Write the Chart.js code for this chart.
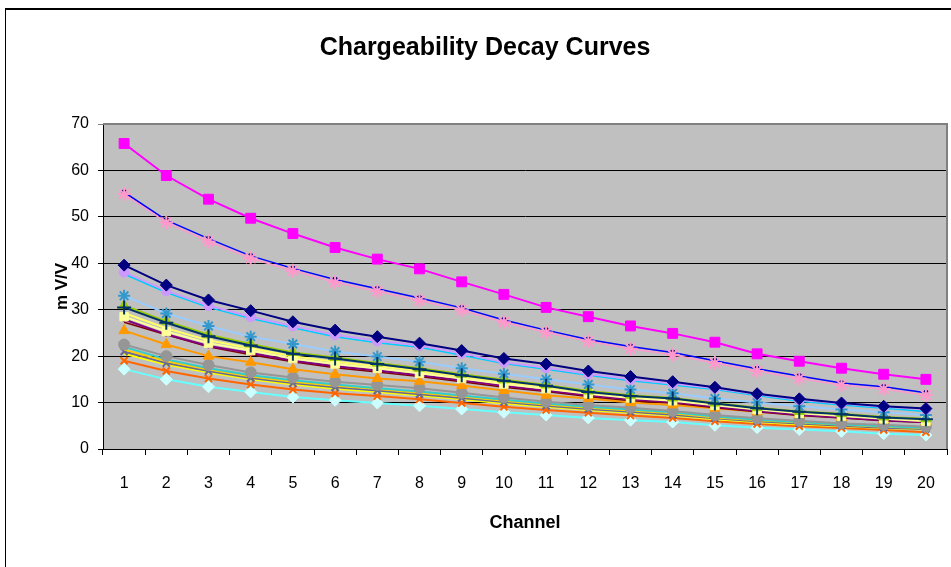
<!DOCTYPE html>
<html>
<head>
<meta charset="utf-8">
<script src="https://cdn.jsdelivr.net/npm/chart.js@4/dist/chart.umd.min.js"></script>
<style>
    html, body { margin: 0; padding: 0; background: #fff; overflow: hidden; }
    #wrap { position: relative; width: 951px; height: 567px; overflow: hidden; }
    #frame { position: absolute; left: 5px; top: 8px; width: 1000px; height: 700px;
             border-left: 1px solid #000; border-top: 2px solid #000; }
    #decay_chart { position: absolute; left: 0; top: 0; }
</style>
</head>
<body>
<div id="wrap">
    <div id="frame"></div>
    <canvas id="decay_chart" width="970" height="567"></canvas>
</div>
<script>
/**
 * chargeability values (mV/V) per channel, one array per curve
 */
let channels = ['1', '2', '3', '4', '5', '6', '7', '8', '9', '10', '11', '12', '13', '14', '15', '16', '17', '18', '19', '20'];
let magentaSquare = [65.8, 58.9, 53.8, 49.7, 46.4, 43.4, 40.9, 38.8, 36.0, 33.3, 30.5, 28.5, 26.5, 24.9, 23.0, 20.5, 18.9, 17.4, 16.1, 15.0];
let blueDot = [55.3, 49.3, 45.3, 41.6, 38.9, 36.5, 34.5, 32.5, 30.4, 27.8, 25.6, 23.6, 22.1, 20.8, 19.0, 17.3, 15.7, 14.2, 13.4, 12.1];
let pinkStar = [54.9, 48.8, 44.7, 41.1, 38.4, 35.9, 34.0, 32.0, 29.9, 27.3, 25.1, 23.2, 21.6, 20.3, 18.5, 16.8, 15.2, 13.8, 12.9, 11.6];
let navyDiamond = [39.6, 35.3, 32.1, 29.8, 27.4, 25.6, 24.2, 22.8, 21.2, 19.5, 18.3, 16.8, 15.6, 14.5, 13.3, 11.9, 10.8, 9.9, 9.2, 8.7];
let lilacCircle = [38.1, 34.1, 30.9, 28.5, 26.5, 24.6, 23.3, 22.3, 20.6, 18.7, 17.5, 16.2, 15.0, 14.1, 13.1, 11.8, 10.6, 9.8, 9.1, 8.6];
let skyLine = [37.7, 33.7, 30.5, 28.1, 26.1, 24.2, 22.9, 21.9, 20.2, 18.4, 17.2, 15.9, 14.7, 13.8, 12.8, 11.5, 10.3, 9.5, 8.8, 8.1];
let paleBlueStar = [33.0, 29.2, 26.5, 24.2, 22.6, 21.0, 19.9, 18.8, 17.4, 16.2, 15.0, 13.9, 12.8, 12.0, 10.9, 10.0, 9.2, 8.5, 7.9, 7.3];
let limeTriangle = [30.9, 27.5, 24.6, 22.6, 20.8, 19.7, 18.5, 17.4, 16.1, 14.9, 13.8, 12.5, 11.6, 11.0, 9.9, 8.9, 8.1, 7.6, 6.9, 6.5];
let tealPlus = [30.5, 27.2, 24.3, 22.3, 20.5, 19.5, 18.3, 17.2, 15.9, 14.7, 13.6, 12.3, 11.4, 10.9, 9.8, 8.8, 8.0, 7.5, 6.8, 6.4];
let yellowLine = [29.3, 26.0, 23.4, 21.7, 20.0, 18.8, 17.8, 16.8, 15.6, 14.4, 13.4, 12.3, 11.3, 10.7, 9.7, 8.8, 7.9, 7.3, 6.7, 6.2];
let creamSquare = [28.5, 25.3, 22.8, 21.2, 19.5, 18.3, 17.4, 16.3, 15.2, 14.0, 13.0, 11.9, 11.0, 10.4, 9.4, 8.5, 7.7, 7.1, 6.5, 6.0];
let purpleDot = [27.9, 24.7, 22.2, 20.7, 19.0, 17.8, 16.9, 15.9, 14.8, 13.6, 12.6, 11.6, 10.7, 10.1, 9.1, 8.2, 7.4, 6.8, 6.2, 5.8];
let maroonLine = [27.3, 24.6, 22.0, 20.3, 18.8, 17.5, 16.6, 15.6, 14.5, 13.3, 12.4, 11.3, 10.4, 9.9, 8.9, 8.0, 7.2, 6.7, 6.1, 5.7];
let orangeTriangle = [25.5, 22.5, 20.0, 18.7, 17.2, 16.1, 15.2, 14.6, 13.7, 12.6, 11.6, 10.9, 10.0, 9.5, 8.8, 8.0, 7.4, 6.8, 6.3, 5.8];
let grayCircle = [22.5, 20.0, 18.1, 16.5, 15.4, 14.5, 13.8, 13.1, 12.1, 11.1, 10.2, 9.5, 8.9, 8.2, 7.3, 6.6, 6.1, 5.5, 5.2, 4.8];
let aquaLine = [22.0, 19.3, 17.4, 15.9, 14.8, 13.9, 13.1, 12.4, 11.5, 10.6, 9.8, 9.1, 8.5, 7.9, 7.0, 6.3, 5.8, 5.3, 4.9, 4.6];
let goldLine = [21.4, 18.9, 17.1, 15.6, 14.5, 13.6, 12.9, 12.1, 11.3, 10.4, 9.6, 8.9, 8.3, 7.7, 6.8, 6.2, 5.7, 5.2, 4.8, 4.5];
let slateCross = [21.0, 18.5, 16.8, 15.3, 14.2, 13.3, 12.6, 11.8, 11.0, 10.1, 9.3, 8.6, 8.0, 7.4, 6.6, 6.0, 5.5, 5.0, 4.6, 4.3];
let brightYellow = [20.5, 18.2, 16.5, 15.0, 13.9, 13.0, 12.3, 11.5, 10.7, 9.8, 9.1, 8.4, 7.8, 7.2, 6.4, 5.8, 5.3, 4.9, 4.5, 4.2];
let orangeCross = [19.0, 16.8, 15.2, 13.9, 12.8, 12.0, 11.4, 10.7, 9.9, 9.1, 8.4, 7.8, 7.2, 6.7, 6.0, 5.4, 4.9, 4.5, 4.1, 3.6];
let cyanDiamond = [17.2, 15.0, 13.4, 12.3, 11.2, 10.5, 9.9, 9.3, 8.6, 7.9, 7.3, 6.7, 6.2, 5.8, 5.1, 4.6, 4.2, 3.8, 3.3, 3.0];


/**
 * builds one line dataset in excel look
 */
function makeSeries(data, lineColor, pointStyle, radius, pointColor, lineWidth) {
    return {
        data: data,
        borderColor: lineColor,
        borderWidth: lineWidth || 2,
        backgroundColor: pointColor || lineColor,
        pointStyle: pointStyle || 'circle',
        pointRadius: radius || 0,
        pointBackgroundColor: pointColor || lineColor,
        pointBorderColor: pointColor || lineColor,
        pointBorderWidth: (pointStyle == 'star' || pointStyle == 'cross' || pointStyle == 'crossRot') ? 2 : 1,
        tension: 0,
        fill: false
    };
}


/**
 * grey plot area with grey frame on top/right like excel
 */
const plotAreaPlugin = {
    id: 'plotArea',
    beforeDraw(chart) {
        const {ctx, chartArea: a} = chart;
        ctx.save();
        ctx.fillStyle = '#C0C0C0';
        ctx.fillRect(a.left, a.top, a.right - a.left, a.bottom - a.top);
        ctx.restore();
    },
    beforeDatasetsDraw(chart) {
        const {ctx, chartArea: a} = chart;
        ctx.save();
        ctx.strokeStyle = '#808080';
        ctx.lineWidth = 2;
        ctx.beginPath();
        ctx.moveTo(a.left, a.top);
        ctx.lineTo(a.right, a.top);
        ctx.lineTo(a.right, a.bottom);
        ctx.stroke();
        ctx.restore();
    }
};

const tickFont = {family: "'Liberation Sans', Arial, sans-serif", size: 16};
const axisTitleFont = {family: "'Liberation Sans', Arial, sans-serif", size: 18, weight: 'bold'};

const decayChartConfig = {
    type: 'line',
    data: {
        labels: channels,
        datasets: [
            makeSeries(magentaSquare, '#FF00FF', 'rect', 7),
            makeSeries(navyDiamond, '#000080', 'rectRot', 6),
            makeSeries(lilacCircle, '#CC99FF', 'circle', 5),
            makeSeries(pinkStar, '#FF99CC', 'star', 7, '#FF99CC', 1.5),
            makeSeries(blueDot, '#0000FF', 'circle', 2.5, '#000080', 1.5),
            makeSeries(skyLine, '#00CCFF', 'circle', 0, null, 1.5),
            makeSeries(tealPlus, '#003366', 'cross', 7),
            makeSeries(paleBlueStar, '#99CCFF', 'star', 6, '#3399CC'),
            makeSeries(limeTriangle, '#99CC00', 'triangle', 6),
            makeSeries(creamSquare, '#FFFF99', 'rect', 6),
            makeSeries(yellowLine, '#FFFF66', 'circle', 0),
            makeSeries(purpleDot, '#800080', 'circle', 2),
            makeSeries(maroonLine, '#800000', 'circle', 0, null, 1.5),
            makeSeries(orangeTriangle, '#FF9900', 'triangle', 6),
            makeSeries(grayCircle, '#969696', 'circle', 5.5),
            makeSeries(aquaLine, '#33CCCC', 'circle', 0),
            makeSeries(goldLine, '#FFCC00', 'circle', 0),
            makeSeries(slateCross, '#666699', 'crossRot', 5),
            makeSeries(brightYellow, '#FFFF00', 'circle', 0),
            makeSeries(orangeCross, '#FF6600', 'crossRot', 5),
            makeSeries(cyanDiamond, '#66FFFF', 'rectRot', 6, '#CCFFFF')
        ]
    },
    options: {
        responsive: false,
        animation: false,
        layout: {
            padding: 0
        },
        scales: {
            x: {
                offset: true,
                afterFit(scale) { scale.height = 118; },
                grid: {
                    offset: true,
                    drawOnChartArea: false,
                    drawTicks: true,
                    tickLength: 6,
                    color: '#000'
                },
                border: {color: '#000', width: 1},
                ticks: {color: '#000', font: tickFont, padding: 19, maxRotation: 0},
                title: {
                    display: true,
                    text: 'Channel',
                    color: '#000',
                    font: axisTitleFont,
                    padding: {top: 0, bottom: 33}
                }
            },
            y: {
                min: 0,
                max: 70,
                afterFit(scale) { scale.width = 103; },
                grid: {
                    color: function (c) { return c.tick && c.tick.value == 70 ? '#808080' : '#000'; },
                    tickLength: 5,
                    drawTicks: true
                },
                border: {color: '#000', width: 1},
                ticks: {stepSize: 10, color: '#000', font: tickFont, padding: 9},
                title: {
                    display: true,
                    text: 'm V/V',
                    color: '#000',
                    font: {family: "'Liberation Sans', Arial, sans-serif", size: 17, weight: 'bold'},
                    padding: {top: 52, bottom: 0}
                }
            },
            // empty right axis only reserves the white margin right of the plot
            yRight: {
                position: 'right',
                display: true,
                afterFit(scale) { scale.width = 23; },
                grid: {display: false},
                border: {display: false},
                ticks: {display: false}
            }
        },
        plugins: {
            legend: {display: false},
            tooltip: {enabled: false},
            title: {
                display: true,
                text: 'Chargeability Decay Curves',
                color: '#000',
                font: {family: "'Liberation Sans', Arial, sans-serif", size: 25, weight: 'bold'},
                padding: {top: 33, bottom: 61}
            }
        }
    },
    plugins: [plotAreaPlugin]
};

const decayChart = new Chart(document.getElementById('decay_chart'), decayChartConfig);
</script>
</body>
</html>
